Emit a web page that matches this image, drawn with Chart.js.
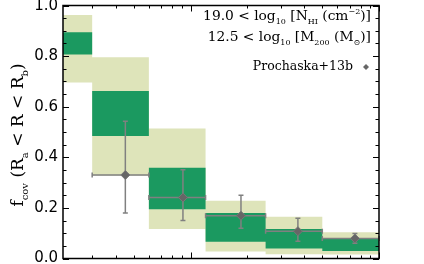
<!DOCTYPE html>
<html>
<head>
<meta charset="utf-8">
<script src="https://cdn.jsdelivr.net/npm/chart.js@4.4.1/dist/chart.umd.min.js"></script>
<style>
  html, body { margin: 0; padding: 0; background: #fff; }
  #wrap { width: 424px; height: 264px; }
</style>
</head>
<body>
<div id="wrap"><canvas id="fcov"></canvas></div>
<script>
// bin edges in radius (kpc), log axis
var binEdges = [21, 30, 60, 120, 250, 500, 1000];
// model covering fraction per bin: outer (light) and inner (dark) ranges
var lightHi = [0.962, 0.795, 0.514, 0.228, 0.165, 0.104];
var lightLo = [0.696, 0.328, 0.117, 0.028, 0.017, 0.016];
var darkHi = [0.894, 0.662, 0.359, 0.180, 0.117, 0.078];
var darkLo = [0.806, 0.484, 0.195, 0.066, 0.040, 0.030];

// Prochaska+13b points
var obsR = [45, 91, 185, 371, 745];
var obsRLo = [30, 60, 120, 250, 500];
var obsRHi = [60, 120, 250, 500, 1000];
var obsF = [0.330, 0.241, 0.169, 0.108, 0.079];
var obsFLo = [0.180, 0.150, 0.120, 0.068, 0.060];
var obsFHi = [0.542, 0.351, 0.250, 0.159, 0.099];

var xTicks = [30, 40, 50, 60, 70, 80, 90, 100, 200, 300, 400, 500, 600, 700, 800, 900, 1000];
var xMajor = [100, 1000];
var yTicks = [0, 0.05, 0.1, 0.15, 0.2, 0.25, 0.3, 0.35, 0.4, 0.45, 0.5, 0.55, 0.6, 0.65, 0.7, 0.75, 0.8, 0.85, 0.9, 0.95, 1.0];
var yLabels = [0, 0.2, 0.4, 0.6, 0.8, 1.0];

var DARK = '#1b9960';
var LIGHT = '#dee4ba';
var GREY = '#808080';

function stepData(vals) {
    var pts = [];
    for (var i = 0; i < vals.length; i++) pts.push({x: binEdges[i], y: vals[i]});
    pts.push({x: binEdges[binEdges.length - 1], y: vals[vals.length - 1]});
    return pts;
}

function band(vals, fill, color, order) {
    return {
        type: 'line',
        data: stepData(vals),
        stepped: 'before',
        borderColor: 'transparent',
        borderWidth: 0,
        pointRadius: 0,
        backgroundColor: color,
        fill: fill,
        order: order
    };
}

// draw text with sub/superscripts, returns width
function richWidth(ctx, parts, size, fam) {
    var w = 0;
    parts.forEach(function (p) {
        ctx.font = (p.s ? Math.round(size * 0.6) : size) + 'px ' + fam;
        w += ctx.measureText(p.t).width;
    });
    return w;
}
function drawRich(ctx, parts, x, y, size, fam) {
    parts.forEach(function (p) {
        var fs = p.s ? Math.round(size * 0.6) : size;
        ctx.font = fs + 'px ' + fam;
        var dy = p.s === 'sub' ? size * 0.32 : (p.s === 'sup' ? -size * 0.42 : 0);
        ctx.fillText(p.t, x, y + dy);
        x += ctx.measureText(p.t).width;
    });
}

var SERIF = '"DejaVu Serif", serif';
var legendLines = [
    [{t: '19.0 < log'}, {t: '10', s: 'sub'}, {t: ' [N'}, {t: 'HI', s: 'sub'}, {t: ' (cm'}, {t: '\u22122', s: 'sup'}, {t: ')]'}],
    [{t: '12.5 < log'}, {t: '10', s: 'sub'}, {t: ' [M'}, {t: '200', s: 'sub'}, {t: ' (M'}, {t: '\u2299', s: 'sub'}, {t: ')]'}]
];
var yTitle = [{t: 'f'}, {t: 'cov', s: 'sub'}, {t: ' (R'}, {t: 'a', s: 'sub'}, {t: ' < R < R'}, {t: 'b', s: 'sub'}, {t: ')'}];

var axesPlugin = {
    id: 'axesPlugin',
    beforeDatasetDraw: function (chart, args) {
        if (args.index !== 0) return;
        var ctx = chart.ctx, xs = chart.scales.x, ys = chart.scales.y;
        ctx.save();
        ctx.strokeStyle = GREY;
        ctx.lineWidth = 1.5;
        for (var i = 0; i < obsR.length; i++) {
            var px = xs.getPixelForValue(obsR[i]);
            var py = ys.getPixelForValue(obsF[i]);
            var x0 = xs.getPixelForValue(obsRLo[i]), x1 = xs.getPixelForValue(obsRHi[i]);
            var y0 = ys.getPixelForValue(obsFLo[i]), y1 = ys.getPixelForValue(obsFHi[i]);
            ctx.beginPath();
            ctx.moveTo(x0, py); ctx.lineTo(x1, py);
            ctx.moveTo(x0, py - 2.5); ctx.lineTo(x0, py + 2.5);
            ctx.moveTo(x1, py - 2.5); ctx.lineTo(x1, py + 2.5);
            ctx.moveTo(px, y0); ctx.lineTo(px, y1);
            ctx.moveTo(px - 2.5, y0); ctx.lineTo(px + 2.5, y0);
            ctx.moveTo(px - 2.5, y1); ctx.lineTo(px + 2.5, y1);
            ctx.stroke();
        }
        ctx.restore();
    },
    afterDraw: function (chart) {
        var ctx = chart.ctx, a = chart.chartArea, xs = chart.scales.x, ys = chart.scales.y;
        ctx.save();
        ctx.strokeStyle = '#000';
        ctx.lineWidth = 1;
        ctx.beginPath();
        xTicks.forEach(function (v) {
            var px = Math.round(xs.getPixelForValue(v)) + 0.5;
            var len = xMajor.indexOf(v) >= 0 ? 6 : 3;
            ctx.moveTo(px, a.bottom); ctx.lineTo(px, a.bottom - len);
            ctx.moveTo(px, a.top); ctx.lineTo(px, a.top + len);
        });
        yTicks.forEach(function (v) {
            var py = Math.round(ys.getPixelForValue(v)) + 0.5;
            var major = Math.abs(v * 5 - Math.round(v * 5)) < 1e-6;
            var len = major ? 6 : 3.5;
            ctx.moveTo(a.left, py); ctx.lineTo(a.left + len, py);
            ctx.moveTo(a.right, py); ctx.lineTo(a.right - len, py);
        });
        ctx.stroke();
        ctx.lineWidth = 1.5;
        ctx.strokeRect(a.left, a.top, a.right - a.left, a.bottom - a.top);

        // y tick labels
        ctx.fillStyle = '#000';
        ctx.font = '15px "DejaVu Sans", sans-serif';
        ctx.textAlign = 'right';
        ctx.textBaseline = 'middle';
        yLabels.forEach(function (v) {
            var py = Math.max(ys.getPixelForValue(v), 6);
            ctx.fillText(v.toFixed(1), a.left - 5, py);
        });

        // y title, rotated
        ctx.textAlign = 'left';
        ctx.textBaseline = 'alphabetic';
        var tw = richWidth(ctx, yTitle, 17, SERIF);
        ctx.save();
        ctx.translate(23, 135);
        ctx.rotate(-Math.PI / 2);
        drawRich(ctx, yTitle, -tw / 2, 0, 17, SERIF);
        ctx.restore();

        // legend text, right aligned
        var right = 371;
        var base = [20, 41];
        legendLines.forEach(function (ln, i) {
            var w = richWidth(ctx, ln, 13.8, SERIF);
            drawRich(ctx, ln, right - w, base[i], 13.8, SERIF);
        });
        ctx.font = '12.5px ' + SERIF;
        ctx.textAlign = 'right';
        ctx.fillText('Prochaska+13b', 353, 70);
        ctx.fillStyle = '#666';
        ctx.beginPath();
        ctx.moveTo(366, 64); ctx.lineTo(369, 67); ctx.lineTo(366, 70); ctx.lineTo(363, 67);
        ctx.closePath();
        ctx.fill();
        ctx.restore();
    }
};

document.addEventListener('DOMContentLoaded', function () {
    var ctx = document.getElementById('fcov').getContext('2d');
    new Chart(ctx, {
        type: 'line',
        data: {
            datasets: [
                {
                    type: 'scatter',
                    data: obsR.map(function (r, i) { return {x: r, y: obsF[i]}; }),
                    pointStyle: 'rectRot',
                    pointRadius: 4.5,
                    backgroundColor: '#666666',
                    borderColor: '#777777',
                    borderWidth: 1,
                    showLine: false,
                    order: 0
                },
                band(darkHi, '+1', DARK, 1),
                band(darkLo, false, DARK, 2),
                band(lightHi, '+1', LIGHT, 3),
                band(lightLo, false, LIGHT, 4)
            ]
        },
        options: {
            responsive: true,
            maintainAspectRatio: false,
            animation: false,
            layout: { padding: { left: 63, right: 45, top: 0, bottom: 0 } },
            plugins: { legend: { display: false }, tooltip: { enabled: false } },
            scales: {
                x: { type: 'logarithmic', min: 21, max: 1000, display: false },
                y: { type: 'linear', min: 0, max: 1, display: false }
            }
        },
        plugins: [axesPlugin]
    });
});
</script>
</body>
</html>
